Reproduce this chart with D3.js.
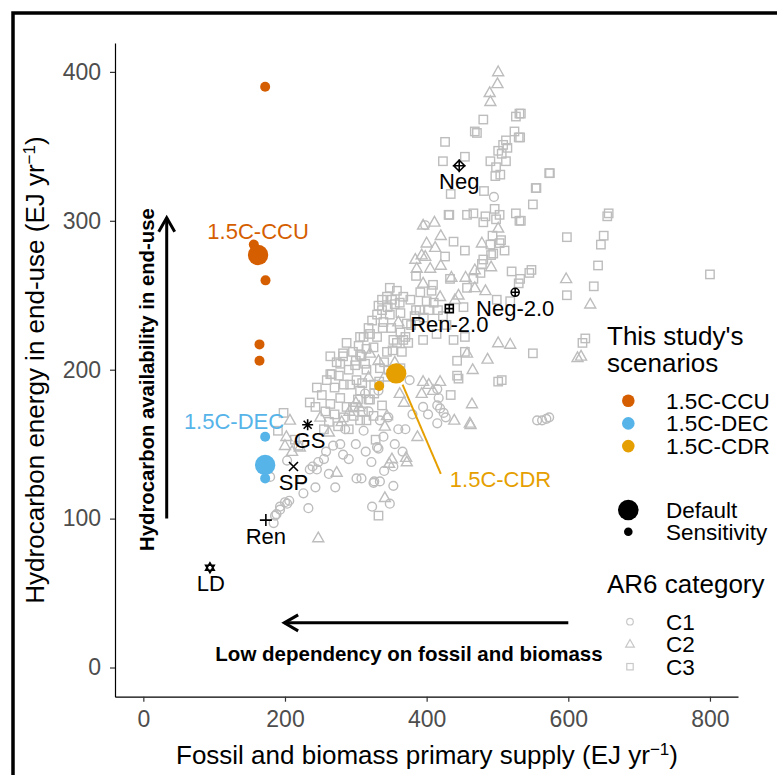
<!DOCTYPE html>
<html><head><meta charset="utf-8">
<script src="https://cdn.jsdelivr.net/npm/d3@7"></script>
<style>
body{margin:0;background:#fff;}
svg{display:block;}
text{font-family:"Liberation Sans",Arial,Helvetica,sans-serif;}
</style></head>
<body>
<svg id="chart" width="777" height="775"></svg>
<script>
// ---------- DATA ----------
const xTicks = [0, 200, 400, 600, 800];
const yTicks = [0, 100, 200, 300, 400];
const xTitle = "Fossil and biomass primary supply (EJ yr";
const yTitle = "Hydrocarbon energy in end-use (EJ yr";

// AR6 category C1 (circles)
const c1 = [[495,316],[556,166],[563,166],[569,167],[573,168],[376,193],[415,187],[417,181],[415,176],[419,174],[424,171],[427,168],[415,164],[346,168],[332,147],[353,135],[366,145],[325,124],[334,125],[308,127],[348,110],[323,108],[203,139],[235,133],[224,126],[226,117],[233,107],[200,111],[206,112],[193,108],[188,103],[184,97],[179,128],[193,106],[203,110],[186,102],[239,135],[247,138],[245,133],[268,149],[282,143],[301,127],[326,125],[330,148],[398,297],[313,184],[332,186],[318,172],[334,166],[311,159],[243,121],[271,121],[262,130],[255,140],[290,140],[300,150],[285,160],[355,150],[322,138],[278,150],[258,145],[314,145],[339,155],[360,160],[380,170],[395,175],[402,170],[340,132],[353,122],[370,160]];
// AR6 category C2 (triangles)
const c2 = [[501,400],[500,392],[489,386],[490,380],[501,295],[478,285],[491,269],[468,267],[597,261],[631,244],[468,255],[483,253],[618,209],[613,208],[501,218],[518,217],[486,207],[457,211],[465,200],[464,177],[462,163],[395,192],[403,190],[393,184],[409,186],[419,192],[461,164],[439,166],[362,184],[368,178],[344,169],[341,162],[387,155],[351,140],[347,137],[371,141],[372,138],[341,114],[247,87],[210,145],[200,149],[411,299],[400,285],[384,274],[398,276],[386,268],[419,249],[440,247],[320,211],[332,206],[291,172],[273,131],[207,166],[202,155],[221,148],[395,297],[393,277],[250,168],[300,178],[340,195],[355,205],[262,158],[280,165],[305,175],[318,195],[360,232],[395,258],[405,268],[412,282],[420,270],[435,262],[445,250],[455,262],[420,290]];
// AR6 category C3 (squares)
const c3 = [[533,372],[532,356],[574,332],[554,322],[550,311],[533,300],[657,305],[655,303],[598,289],[650,290],[646,284],[531,372],[526,370],[480,368],[471,359],[524,360],[530,356],[512,354],[508,351],[514,349],[501,347],[506,345],[490,340],[512,340],[498,336],[497,330],[504,331],[573,332],[555,322],[481,320],[496,308],[466,305],[483,303],[480,299],[498,301],[503,304],[526,305],[531,300],[493,290],[505,287],[503,285],[490,284],[510,280],[494,278],[491,277],[480,274],[478,271],[476,265],[466,261],[520,266],[548,267],[545,265],[532,261],[530,258],[598,250],[636,256],[642,270],[800,264],[499,247],[518,246],[624,221],[620,218],[550,211],[501,192],[506,193],[443,196],[445,194],[434,183],[332,102],[432,304],[457,304],[438,286],[454,280],[426,276],[385,263],[433,261],[457,255],[409,257],[348,255],[358,253],[344,249],[351,247],[337,247],[332,243],[367,249],[377,247],[391,252],[407,253],[400,246],[452,242],[337,240],[330,237],[348,237],[323,233],[339,232],[318,228],[363,238],[372,231],[363,225],[367,220],[374,218],[395,220],[414,224],[438,220],[454,222],[454,212],[443,206],[311,222],[304,216],[315,214],[308,209],[299,203],[313,204],[282,209],[290,200],[264,197],[278,204],[334,201],[363,201],[344,212],[353,220],[468,360],[426,353],[454,343],[423,340],[434,318],[431,304],[235,178],[243,175],[257,172],[264,177],[252,183],[278,181],[287,175],[297,169],[315,166],[325,169],[245,188],[259,193],[266,197],[273,205],[264,209],[282,211],[287,218],[306,222],[320,224],[315,200],[301,193],[306,186],[309,191],[320,180],[337,176],[306,166],[328,153],[198,171],[190,159],[214,153],[219,149],[270,188],[292,190],[326,190],[350,228],[385,240],[296,212],[255,160],[262,165],[270,170],[275,162],[283,168],[290,160],[296,175],[303,180],[310,172],[318,180],[326,184],[333,192],[340,205],[346,200],[352,213],[358,218],[365,212],[370,222],[378,230],[383,236],[390,240],[396,235],[403,240],[410,245],[416,240],[423,236],[428,230],[283,190],[276,196],[300,206],[306,210],[325,215],[330,222],[338,228],[345,242],[355,244],[362,245]];

// This study's scenarios
const scenarioNames = ["1.5C-CCU", "1.5C-DEC", "1.5C-CDR"];
const scenarioColors = ["#D55E00", "#56B4E9", "#E69F00"];
const ccuDefault = [162, 277];
const ccuSens = [[156,284],[172,390],[172.5,260],[164,217],[164,206]];
const decDefault = [172, 136];
const decSens = [[172,155],[172,127]];
const cdrDefault = [357, 197.5];
const cdrSens = [[333,189]];

// literature scenarios (black markers)
const litNames  = ["Neg", "Neg-2.0", "Ren-2.0", "GS", "SP", "Ren", "LD"];
const litShapes = ["diamondplus", "circleplus", "squareplus", "asterisk", "cross", "plus", "star"];
const litX = [446, 525, 432, 232, 212, 173, 94];
const litY = [337, 252, 241, 163, 135, 99, 67];

// annotations
const arrowV = {x: 33, y0: 100, y1: 302};
const arrowH = {y: 30, x0: 600, x1: 199};
const cdrLeader = [[366, 190], [420, 130]];

// ---------- DRAW ----------
const svg = d3.select("#chart");
const x = d3.scaleLinear().domain([-40, 839.6]).range([115, 738]);
const y = d3.scaleLinear().domain([-19.6, 419.4]).range([696.7, 43]);
const GRAY = "#BDBDBD";

// outer frame
svg.append("rect").attr("x",13).attr("y",13).attr("width",800).attr("height",800)
  .attr("fill","none").attr("stroke","#000").attr("stroke-width",3.5);

// axes
const gx = svg.append("g").attr("transform","translate(0,696.7)")
  .call(d3.axisBottom(x).tickValues(xTicks).tickSize(5).tickSizeOuter(0).tickPadding(8.7));
const gy = svg.append("g").attr("transform","translate(115,0)")
  .call(d3.axisLeft(y).tickValues(yTicks).tickSize(5).tickSizeOuter(0).tickPadding(9));
[gx, gy].forEach(g => {
  g.select(".domain").attr("stroke","#000").attr("stroke-width",1.2);
  g.selectAll(".tick line").attr("stroke","#333").attr("stroke-width",1.2);
  g.selectAll(".tick text").attr("fill","#4d4d4d").style("font-size","23px")
    .style("font-family",'"Liberation Sans",Arial,sans-serif');
});

function titleText(g, txt) {
  g.append("tspan").text(txt);
  g.append("tspan").attr("baseline-shift","super").style("font-size","17px").text("\u22121");
  g.append("tspan").text(")");
}
const xt = svg.append("text").attr("x",427).attr("y",764).attr("text-anchor","middle")
  .style("font-size","26px").attr("fill","#000");
titleText(xt, xTitle);
const yt = svg.append("text").attr("transform","translate(44,370) rotate(-90)").attr("text-anchor","middle")
  .style("font-size","26px").attr("fill","#000");
titleText(yt, yTitle);

// gray AR6 points
const pts = svg.append("g").attr("fill","none").attr("stroke",GRAY).attr("stroke-width",1.4);
pts.selectAll(".sq").data(c3).join("rect").attr("class","sq")
  .attr("x",d=>x(d[0])-4.2).attr("y",d=>y(d[1])-4.2).attr("width",8.4).attr("height",8.4);
const tri = (cx,cy,s) => `M${cx},${cy-s*0.62}L${cx+s*0.58},${cy+s*0.4}L${cx-s*0.58},${cy+s*0.4}Z`;
pts.selectAll(".tr").data(c2).join("path").attr("class","tr")
  .attr("d",d=>tri(x(d[0]),y(d[1]),9.5));
pts.selectAll(".ci").data(c1).join("circle").attr("class","ci")
  .attr("cx",d=>x(d[0])).attr("cy",d=>y(d[1])).attr("r",4.4);

// leader line for CDR
svg.append("line").attr("x1",x(cdrLeader[0][0])).attr("y1",y(cdrLeader[0][1]))
  .attr("x2",x(cdrLeader[1][0])).attr("y2",y(cdrLeader[1][1]))
  .attr("stroke",scenarioColors[2]).attr("stroke-width",2);

// scenario points
const sc = svg.append("g");
[[ccuSens,ccuDefault],[decSens,decDefault],[cdrSens,cdrDefault]].forEach((p,i)=>{
  sc.selectAll(null).data(p[0]).join("circle").attr("cx",d=>x(d[0])).attr("cy",d=>y(d[1]))
    .attr("r",5).attr("fill",scenarioColors[i]);
  sc.append("circle").attr("cx",x(p[1][0])).attr("cy",y(p[1][1])).attr("r",10.2).attr("fill",scenarioColors[i]);
});

// scenario labels
const labStyle = s => s.style("font-size","22px");
labStyle(svg.append("text").attr("x",x(ccuDefault[0])).attr("y",238.5).attr("text-anchor","middle")
  .attr("fill",scenarioColors[0]).text(scenarioNames[0]));
labStyle(svg.append("text").attr("x",234).attr("y",428.5).attr("text-anchor","middle")
  .attr("fill",scenarioColors[1]).text(scenarioNames[1]));
labStyle(svg.append("text").attr("x",x(cdrLeader[1][0])+9).attr("y",y(cdrLeader[1][1])+13).attr("text-anchor","start")
  .attr("fill",scenarioColors[2]).text(scenarioNames[2]));

// literature markers
function marker(g, shape, cx, cy) {
  const p = d3.path();
  if (shape==="plus") { p.moveTo(cx-6,cy); p.lineTo(cx+6,cy); p.moveTo(cx,cy-6); p.lineTo(cx,cy+6); }
  if (shape==="cross") { p.moveTo(cx-4.5,cy-4.5); p.lineTo(cx+4.5,cy+4.5); p.moveTo(cx-4.5,cy+4.5); p.lineTo(cx+4.5,cy-4.5); }
  if (shape==="asterisk") { p.moveTo(cx-5.5,cy); p.lineTo(cx+5.5,cy); p.moveTo(cx,cy-5.5); p.lineTo(cx,cy+5.5);
    p.moveTo(cx-4,cy-4); p.lineTo(cx+4,cy+4); p.moveTo(cx-4,cy+4); p.lineTo(cx+4,cy-4); }
  if (shape==="diamondplus") { p.moveTo(cx,cy-5.5); p.lineTo(cx+5.5,cy); p.lineTo(cx,cy+5.5); p.lineTo(cx-5.5,cy); p.closePath();
    p.moveTo(cx-6.5,cy); p.lineTo(cx+6.5,cy); p.moveTo(cx,cy-6.5); p.lineTo(cx,cy+6.5); }
  if (shape==="circleplus") { p.moveTo(cx+4,cy); p.arc(cx,cy,4,0,2*Math.PI);
    p.moveTo(cx-4,cy); p.lineTo(cx+4,cy); p.moveTo(cx,cy-4); p.lineTo(cx,cy+4); }
  if (shape==="squareplus") { p.rect(cx-4,cy-4,8,8);
    p.moveTo(cx-4,cy); p.lineTo(cx+4,cy); p.moveTo(cx,cy-4); p.lineTo(cx,cy+4); }
  if (shape==="star") { p.moveTo(cx,cy-5); p.lineTo(cx+4.3,cy+2.5); p.lineTo(cx-4.3,cy+2.5); p.closePath();
    p.moveTo(cx,cy+5); p.lineTo(cx+4.3,cy-2.5); p.lineTo(cx-4.3,cy-2.5); p.closePath(); }
  g.append("path").attr("d",p.toString()).attr("fill","none").attr("stroke","#000").attr("stroke-width",1.6);
}
const lit = svg.append("g");
const litDx = [0, 0, 0, 2, 0, 0, 1];
litNames.forEach((n,i)=>{
  const cx = x(litX[i]), cy = y(litY[i]);
  marker(lit, litShapes[i], cx, cy);
  lit.append("text").attr("x",cx+litDx[i]).attr("y",cy+23.5).attr("text-anchor","middle")
    .style("font-size","22px").attr("fill","#000").text(n);
});

// annotation arrows
function arrow(x1,y1,x2,y2){
  svg.append("line").attr("x1",x1).attr("y1",y1).attr("x2",x2).attr("y2",y2)
    .attr("stroke","#000").attr("stroke-width",3);
  const a = Math.atan2(y2-y1,x2-x1), L=16, w=Math.PI/6;
  const p = d3.path();
  p.moveTo(x2-L*Math.cos(a-w), y2-L*Math.sin(a-w)); p.lineTo(x2,y2);
  p.lineTo(x2-L*Math.cos(a+w), y2-L*Math.sin(a+w));
  svg.append("path").attr("d",p.toString()).attr("fill","none").attr("stroke","#000").attr("stroke-width",3);
}
arrow(x(arrowV.x), y(arrowV.y0), x(arrowV.x), y(arrowV.y1));
arrow(x(arrowH.x0), y(arrowH.y), x(arrowH.x1), y(arrowH.y));
svg.append("text").attr("transform",`translate(${x(arrowV.x)-13},${y(arrowV.y0)-139}) rotate(-90)`)
  .attr("text-anchor","middle").style("font-size","20.3px").style("font-weight","bold")
  .text("Hydrocarbon availability in end-use");
svg.append("text").attr("x",409).attr("y",y(arrowH.y)+38).attr("text-anchor","middle")
  .style("font-size","20.5px").style("font-weight","bold")
  .text("Low dependency on fossil and biomass");

// legends
const lg = svg.append("g");
const legFont = s => s.style("font-size","22.5px").attr("fill","#000");
const legTitle = s => s.style("font-size","26px").attr("fill","#000");
legTitle(lg.append("text").attr("x",607).attr("y",345).text("This study's"));
legTitle(lg.append("text").attr("x",607).attr("y",371.5).text("scenarios"));
scenarioNames.forEach((n,i)=>{
  const cy = 400.7 + i*22.7;
  lg.append("circle").attr("cx",628.3).attr("cy",cy).attr("r",6.3).attr("fill",scenarioColors[i]);
  legFont(lg.append("text").attr("x",666).attr("y",cy+8).text(n));
});
lg.append("circle").attr("cx",628.3).attr("cy",510).attr("r",10.3).attr("fill","#000");
legFont(lg.append("text").attr("x",666).attr("y",518).text("Default"));
lg.append("circle").attr("cx",628.3).attr("cy",531.7).attr("r",4.3).attr("fill","#000");
legFont(lg.append("text").attr("x",666).attr("y",539.7).text("Sensitivity"));

legTitle(lg.append("text").attr("x",607).attr("y",593.3).text("AR6 category"));
const lgs = lg.append("g").attr("fill","none").attr("stroke","#C8C8C8").attr("stroke-width",1.2);
const ar6Labels = ["C1","C2","C3"];
ar6Labels.forEach((n,i)=>{
  const cy = 621.7 + i*22.5, cx = 630;
  if (i===0) lgs.append("circle").attr("cx",cx).attr("cy",cy).attr("r",3.3);
  if (i===1) lgs.append("path").attr("d",tri(cx,cy,7.5));
  if (i===2) lgs.append("rect").attr("x",cx-3.2).attr("y",cy-3.2).attr("width",6.4).attr("height",6.4);
  legFont(lg.append("text").attr("x",666).attr("y",cy+8).text(n));
});
</script>
</body></html>
